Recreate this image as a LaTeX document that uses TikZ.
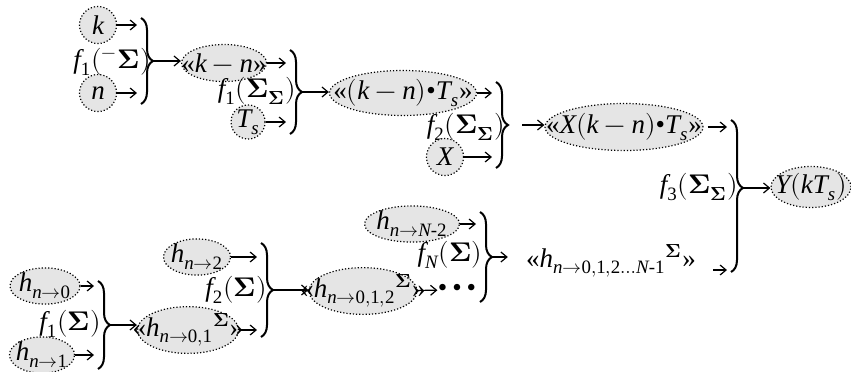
\documentclass[tikz,border=0pt]{standalone}
\usepackage{amsmath}
\usepackage{fontspec}
\usepackage{unicode-math}
\setmainfont{Liberation Serif}
\setmathfont{Latin Modern Math}
\setmathfont{Liberation Serif Italic}[range=it/{Latin,latin}]
\setmathfont{Liberation Serif}[range=up/num]
\usetikzlibrary{arrows.meta,shapes.geometric,decorations.pathreplacing}
\newcommand\inbox[1]{\makebox[0pt]{#1}}
\newcommand\bS{\symbfup{\Sigma}}
\tikzset{
    var/.style={circle, draw, densely dotted, line width=0.6pt, fill=gray!20,
                inner sep=0pt, minimum size=18.5pt},
    term/.style={ellipse, draw, densely dotted, line width=0.6pt, fill=gray!20,
                 inner sep=0pt},
    fn/.style={inner sep=0pt},
    flow/.style={-{Straight Barb[length=3pt,width=5pt]}, line width=0.6pt},
    brace/.style={decorate, decoration={brace, amplitude=6pt}, line width=1pt},
}
\begin{document}
\begin{tikzpicture}[x=0.5pt, y=-0.5pt, font=\fontsize{13.5}{16}\selectfont]

    \useasboundingbox (0,0) rectangle (851,371);

    % upper chain
    \node[var] (k) at (98,25) {$k$};
    \node[var] (n) at (98,93) {$n$};
    \node[fn] (f1m) at (112,62) {$f_1({}^{-}\bS)$};
    \node[term, minimum width=42.5pt, minimum height=18.5pt] (kn) at (224,63) {\inbox{«$k-n$»}};
    \node[fn] (f1ss) at (257,91) {$f_1(\bS_{\bS})$};
    \node[var, minimum size=17pt] (Ts) at (248,122) {$T_s$};
    \node[term, minimum width=73.5pt, minimum height=22.5pt] (knTs) at (403,93) {\inbox{«$(k-n)$•$T_s$»}};
    \node[fn] (f2ss) at (466,127) {$f_2(\bS_{\bS})$};
    \node[var] (X) at (445,157) {$X$};
    \node[term, minimum width=79pt, minimum height=23.5pt] (Xkn) at (624,127) {\inbox{«$X(k-n)$•$T_s$»}};
    \node[fn] (f3ss) at (699,187) {$f_3(\bS_{\bS})$};
    \node[term, minimum width=40pt, minimum height=20.5pt] (Y) at (811,187) {\inbox{$Y(kT_s)$}};

    % lower chain
    \node[term, minimum width=35pt, minimum height=15.5pt] (h0) at (45,286) {\inbox{$h_{n\to0}$}};
    \node[term, minimum width=32.5pt, minimum height=14pt] (h1) at (42,355) {\inbox{$h_{n\to1}$}};
    \node[fn] (f1) at (70,324) {$f_1(\bS)$};
    \node[term, minimum width=50.5pt, minimum height=17pt] (h01) at (188,330) {\inbox{«$h_{n\to0,1}{}^{\bS}$»}};
    \node[term, minimum width=33.5pt, minimum height=15pt] (h2) at (197,257) {\inbox{$h_{n\to2}$}};
    \node[fn] (f2) at (236,290) {$f_2(\bS)$};
    \node[term, minimum width=54pt, minimum height=21.5pt] (h012) at (363,291) {\inbox{«$h_{n\to0,1,2}{}^{\bS}$»}};
    \node[fn] (dots) at (457,290) {•\kern2.5pt•\kern2.5pt•};
    \node[term, minimum width=47.5pt, minimum height=16pt] (hN2) at (412,224) {\inbox{$h_{n\to N\text{-}2}$}};
    \node[fn] (fN) at (450,255) {$f_N(\bS)$};
    \node[fn] (hN1) at (611,261) {«$h_{n\to0,1,2\ldots N\text{-}1}{}^{\bS}$»};
    \coordinate (hN1out) at (713,270);

    % braces
    \coordinate (b1t) at (141,18);  \coordinate (b1b) at (141,104); \coordinate (b1) at (153,61);
    \coordinate (b2t) at (290,50);  \coordinate (b2b) at (290,134); \coordinate (b2) at (302,92);
    \coordinate (b3t) at (496,82);  \coordinate (b3b) at (496,168); \coordinate (b3) at (508,125);
    \coordinate (b4t) at (731,120); \coordinate (b4b) at (731,272); \coordinate (b4) at (743,188);
    \coordinate (b5t) at (98,281);  \coordinate (b5b) at (98,369);  \coordinate (b5) at (110,325);
    \coordinate (b6t) at (261,243); \coordinate (b6b) at (261,337); \coordinate (b6) at (273,290);
    \coordinate (b7t) at (480,212); \coordinate (b7b) at (480,302); \coordinate (b7) at (492,257);
    \draw[brace] (b1t) -- (b1b);
    \draw[brace] (b2t) -- (b2b);
    \draw[brace] (b3t) -- (b3b);
    \draw[brace, decoration={aspect=0.447}] (b4t) -- (b4b);
    \draw[brace] (b5t) -- (b5b);
    \draw[brace] (b6t) -- (b6b);
    \draw[brace] (b7t) -- (b7b);

    % arrows
    \draw[flow, shorten >=2pt] (k) -- (k -| b1t);
    \draw[flow, shorten >=2pt] (n) -- (n -| b1t);
    \draw[flow] (b1) -- (b1 -| kn.west);
    \draw[flow, shorten >=2pt] (kn) -- (kn -| b2t);
    \draw[flow, shorten >=2pt] (Ts) -- (Ts -| b2t);
    \draw[flow] (b2) -- (b2 -| knTs.west);
    \draw[flow, shorten >=2pt] (knTs) -- (knTs -| b3t);
    \draw[flow, shorten >=2pt] (X) -- (X -| b3t);
    \draw[flow, shorten <=7pt] (b3) -- (b3 -| Xkn.west);
    \draw[flow, shorten <=2pt, shorten >=2pt] (Xkn.east) -- (Xkn.east -| b4t);
    \draw[flow] (b4) -- (b4 -| Y.west);
    \draw[flow, shorten >=2pt] (h0) -- (h0 -| b5t);
    \draw[flow, shorten >=2pt] (h1) -- (h1 -| b5t);
    \draw[flow] (b5) -- (b5 -| h01.west);
    \draw[flow, shorten >=2pt] (h2) -- (h2 -| b6t);
    \draw[flow, shorten >=2pt] (h01) -- (h01 -| b6t);
    \draw[flow] (b6) -- (b6 -| h012.west);
    \draw[flow, shorten >=2pt] (hN2) -- (hN2 -| b7t);
    \draw[flow] (h012) -- (dots);
    \draw[flow, shorten >=9pt] (b7) -- (b7 -| hN1.west);
    \draw[flow, shorten >=2pt] (hN1out) -- (hN1out -| b4b);

\end{tikzpicture}
\end{document}
